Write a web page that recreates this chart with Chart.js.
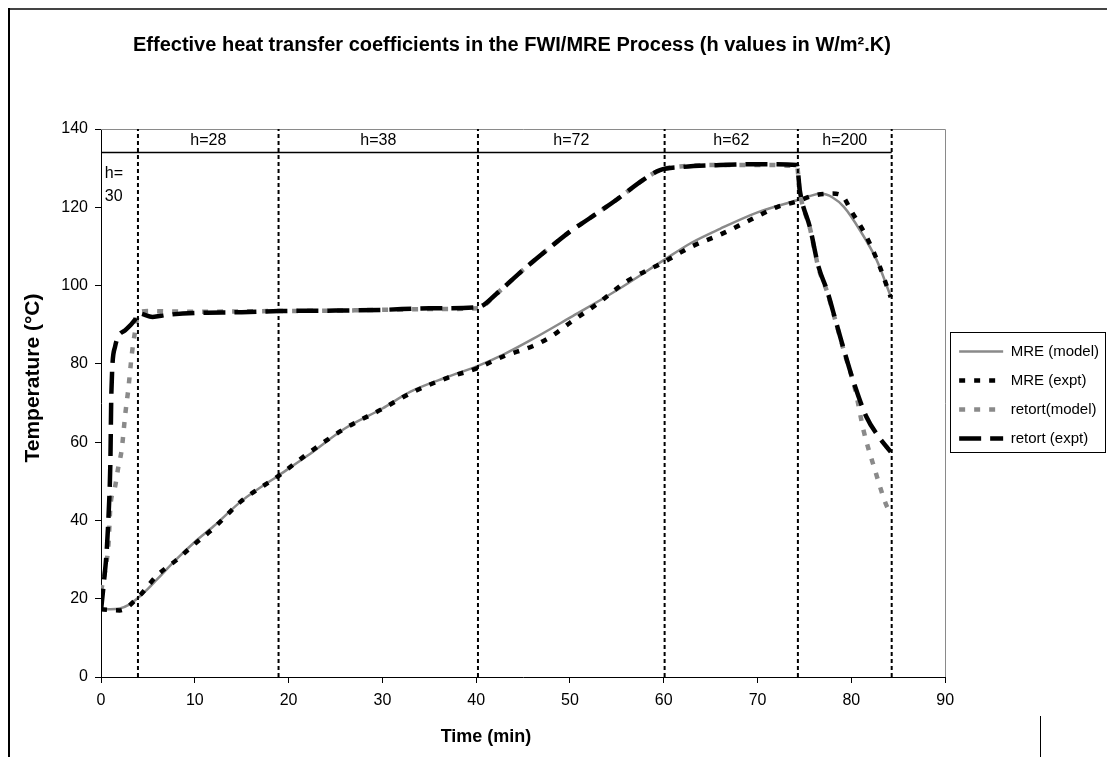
<!DOCTYPE html>
<html>
<head>
<meta charset="utf-8">
<script src="https://cdn.jsdelivr.net/npm/chart.js@4/dist/chart.umd.min.js"></script>
<style>
html,body{margin:0;padding:0;background:#fff;}
#wrap{width:1107px;height:757px;position:relative;}
</style>
</head>
<body>
<div id="wrap"><canvas id="c" width="1107" height="757"></canvas></div>
<script>
// ---- data ----
const tMreModel = [0,1,2,3,4,5,6,8,10,12,15,19,22,26,30,33,37,40,43,46,50,55,60,63,66,70,74.2,75.5,76.7,78,79.2,80.9,82.7,84.2];
const mreModel  = [17.3,17.3,17.5,18.5,20.3,22.5,25,30,34.5,38.5,45,51.6,56.5,63.5,68.6,72.9,76.7,79.3,82.5,86.3,91.8,98.8,106.5,111,114.5,118.7,121.8,122.8,123.5,122.5,120.1,114.2,106.5,97.2];

const tMreExpt = [0,2,4,6,8,10,12,15,19,22,26,30,33,37,40,43,46,48,50,53,56,60,63,66,69,72,74.2,76,78,79,80,81.5,83,84.2];
const mreExpt  = [17.3,17,20.5,26,29.8,34,38,45,51.5,57,63.5,68.5,72.5,76.5,78.8,82,84.5,87,90.5,95.5,101,106,110,113,116.5,120,121.5,123,123.5,123,119,113,105,97];

const tRetModel = [0,0.5,0.8,1.0,1.5,1.85,2.2,2.6,2.9,3.3,3.6,4.0,5,7,10,15,19,25,30,35,40.2,42.2,45,47.5,50,52.1,55,57.8,59.6,62,66,70,74.2,74.5,75.6,76.5,77.4,78.4,79.3,80.4,81.3,82.5,83.8,84.2];
const retModel  = [22,28,34,43.5,48.6,53.7,58,67.4,73.3,82.7,87.8,93,93.5,93.4,93.3,93.4,93.5,93.6,93.8,94,94.2,98,104,109,113.8,117.2,122,127,129.5,130.5,130.8,130.8,130.5,124,114.5,104.5,98.5,90.2,82.5,73.5,63,53,43.5,42];

const tRetExpt = [0,0.3,0.6,0.8,1.0,1.1,1.5,2.6,3.6,4.0,5.5,7,10,15,19,25,30,35,40.2,42.2,45,47.5,50,52.1,55,57.8,59.6,62,66,70,74.2,74.5,75.6,76.5,77.4,78.4,79.3,80.4,81.6,82.9,84.2];
const retExpt  = [17,24,32,41,55,72,84.4,88.6,91.2,92.9,92,92.5,93,93.2,93.5,93.6,93.8,94.2,94.5,98,104,109,113.8,117.2,122,127,129.5,130.3,130.8,131,130.8,124.4,114.7,104.8,98.8,90.4,82.8,74.2,66.5,61.4,57.5];

const seriesNames = ['MRE (model)','MRE (expt)','retort(model)','retort (expt)'];
const boundaries = [3.94,18.93,40.19,60.09,74.3,84.3];
const hLabels = ['h=28','h=38','h=72','h=62','h=200'];
const firstLabel = ['h=','30'];
const xTicks = [0,10,20,30,40,50,60,70,80,90];
const yTicks = [0,20,40,60,80,100,120,140];
const chartTitle = 'Effective heat transfer coefficients in the FWI/MRE Process (h values in W/m\u00B2.K)';
const xTitle = 'Time (min)';
const yTitle = 'Temperature (\u00B0C)';

function pts(xs, ys){ return xs.map((x,i)=>({x:x,y:ys[i]})); }

const FONT = 'Liberation Sans, Arial, sans-serif';
const GRAY = '#8a8a8a';

const overlay = {
  id:'overlay',
  beforeDraw(chart){
    const ctx = chart.ctx;
    ctx.save();
    ctx.fillStyle='#fff'; ctx.fillRect(0,0,chart.width,chart.height);
    ctx.strokeStyle='#444'; ctx.lineWidth=2;
    ctx.beginPath(); ctx.moveTo(8,9); ctx.lineTo(1107,9); ctx.stroke();
    ctx.strokeStyle='#000';
    ctx.beginPath(); ctx.moveTo(9,8); ctx.lineTo(9,757); ctx.stroke();
    ctx.lineWidth=1;
    ctx.beginPath(); ctx.moveTo(1040.5,716); ctx.lineTo(1040.5,757); ctx.stroke();
    ctx.restore();
  },
  afterDatasetsDraw(chart){
    const ctx = chart.ctx, xs = chart.scales.x, ys = chart.scales.y, a = chart.chartArea;
    ctx.save();
    ctx.strokeStyle=GRAY; ctx.lineWidth=1;
    const ty = Math.round(ys.getPixelForValue(140))+0.5, rx = Math.round(xs.getPixelForValue(90))+0.5;
    ctx.beginPath(); ctx.moveTo(a.left, ty); ctx.lineTo(rx, ty); ctx.lineTo(rx, a.bottom); ctx.stroke();
    ctx.strokeStyle='#000'; ctx.lineWidth=1.5;
    const hy = ys.getPixelForValue(134);
    ctx.beginPath(); ctx.moveTo(xs.getPixelForValue(0), hy); ctx.lineTo(xs.getPixelForValue(boundaries[boundaries.length-1]), hy); ctx.stroke();
    ctx.lineWidth=2; ctx.setLineDash([4,3]);
    boundaries.forEach(b=>{
      const px = xs.getPixelForValue(b);
      ctx.beginPath(); ctx.moveTo(px, ys.getPixelForValue(0)); ctx.lineTo(px, ys.getPixelForValue(140)); ctx.stroke();
    });
    ctx.setLineDash([]);
    ctx.fillStyle='#000'; ctx.font='16px '+FONT; ctx.textAlign='center'; ctx.textBaseline='middle';
    hLabels.forEach((t,i)=>{
      const cx = (xs.getPixelForValue(boundaries[i])+xs.getPixelForValue(boundaries[i+1]))/2;
      ctx.fillText(t, cx, ys.getPixelForValue(137.1));
    });
    ctx.textAlign='left';
    ctx.fillText(firstLabel[0], xs.getPixelForValue(0.4), ys.getPixelForValue(128.6));
    ctx.fillText(firstLabel[1], xs.getPixelForValue(0.4), ys.getPixelForValue(122.8));
    ctx.restore();
  },
  afterDraw(chart){
    const ctx = chart.ctx;
    // axis titles
    ctx.save();
    ctx.fillStyle='#000'; ctx.textAlign='center'; ctx.textBaseline='middle';
    ctx.font='bold 18px '+FONT;
    ctx.fillText(xTitle, 486, 737);
    ctx.translate(33, 378); ctx.rotate(-Math.PI/2);
    ctx.font='bold 21px '+FONT;
    ctx.fillText(yTitle, 0, 0);
    ctx.restore();
    // legend frame
    const lg = chart.legend; if(!lg || !lg.legendHitBoxes || !lg.legendHitBoxes.length) return;
    const hb = lg.legendHitBoxes;
    const first = hb[0], last = hb[hb.length-1];
    const top = first.top + first.height/2 - 20, bot = last.top + last.height/2 + 13;
    const left = Math.min(...hb.map(h=>h.left)) - 9;
    ctx.save(); ctx.strokeStyle='#000'; ctx.lineWidth=1;
    ctx.strokeRect(Math.round(left)+0.5, Math.round(top)+0.5, 1105 - Math.round(left), Math.round(bot-top));
    ctx.restore();
  }
};

const cfg = {
  type:'line',
  data:{
    datasets:[
      {label:seriesNames[0], data:pts(tMreModel,mreModel), borderColor:GRAY, backgroundColor:GRAY, borderWidth:2.5, pointRadius:0, cubicInterpolationMode:'monotone', order:4},
      {label:seriesNames[1], data:pts(tMreExpt,mreExpt), borderColor:'#000', backgroundColor:'#000', borderWidth:4.5, borderDash:[6,9], pointRadius:0, cubicInterpolationMode:'monotone', order:2},
      {label:seriesNames[2], data:pts(tRetModel,retModel), borderColor:GRAY, backgroundColor:GRAY, borderWidth:4.5, borderDash:[6,9], pointRadius:0, cubicInterpolationMode:'monotone', order:3},
      {label:seriesNames[3], data:pts(tRetExpt,retExpt), borderColor:'#000', backgroundColor:'#000', borderWidth:4.5, borderDash:[22,9], pointRadius:0, cubicInterpolationMode:'monotone', order:1}
    ]
  },
  options:{
    responsive:false, animation:false, devicePixelRatio:1,
    layout:{padding:{top:33,left:19,right:-2,bottom:0}},
    plugins:{
      title:{display:true, fullSize:false, text:chartTitle + '    ', color:'#000', font:{family:FONT,size:20,weight:'bold'}, padding:{top:0,bottom:72}},
      legend:{display:true, position:'right', align:'center',
        labels:{usePointStyle:true, pointStyle:'line', pointStyleWidth:44, boxHeight:15, padding:14, color:'#000', font:{family:FONT,size:15},
          sort:(a,b)=>a.datasetIndex-b.datasetIndex,
          generateLabels:(chart)=>{
            const items = Chart.defaults.plugins.legend.labels.generateLabels(chart);
            items.forEach(it=>{
              const ds = chart.data.datasets[it.datasetIndex];
              it.lineDash = ds.borderDash || [];
              it.lineWidth = ds.borderWidth;
              it.strokeStyle = ds.borderColor;
              it.fillStyle = ds.borderColor;
              it.lineCap = 'butt';
            });
            return items;
          }}},
      tooltip:{enabled:false}
    },
    scales:{
      x:{type:'linear', min:0, max:90,
        afterBuildTicks:(s)=>{s.ticks = xTicks.map(v=>({value:v}));},
        afterFit:(s)=>{s.height = 80;},
        ticks:{color:'#000', font:{family:FONT,size:16}, padding:8, maxRotation:0},
        grid:{display:true, drawOnChartArea:false, drawTicks:true, tickLength:6, color:'#000'},
        border:{display:true, color:'#000', width:1},
        title:{display:false, text:xTitle}
      },
      y:{type:'linear', min:0, max:140,
        afterBuildTicks:(s)=>{s.ticks = yTicks.map(v=>({value:v}));},
        afterFit:(s)=>{s.width = 82;},
        ticks:{color:'#000', font:{family:FONT,size:16}, padding:7},
        grid:{display:true, drawOnChartArea:false, drawTicks:true, tickLength:6, color:'#000'},
        border:{display:true, color:'#000', width:1},
        title:{display:false, text:yTitle}
      }
    }
  },
  plugins:[overlay]
};
new Chart(document.getElementById('c'), cfg);
</script>
</body>
</html>
